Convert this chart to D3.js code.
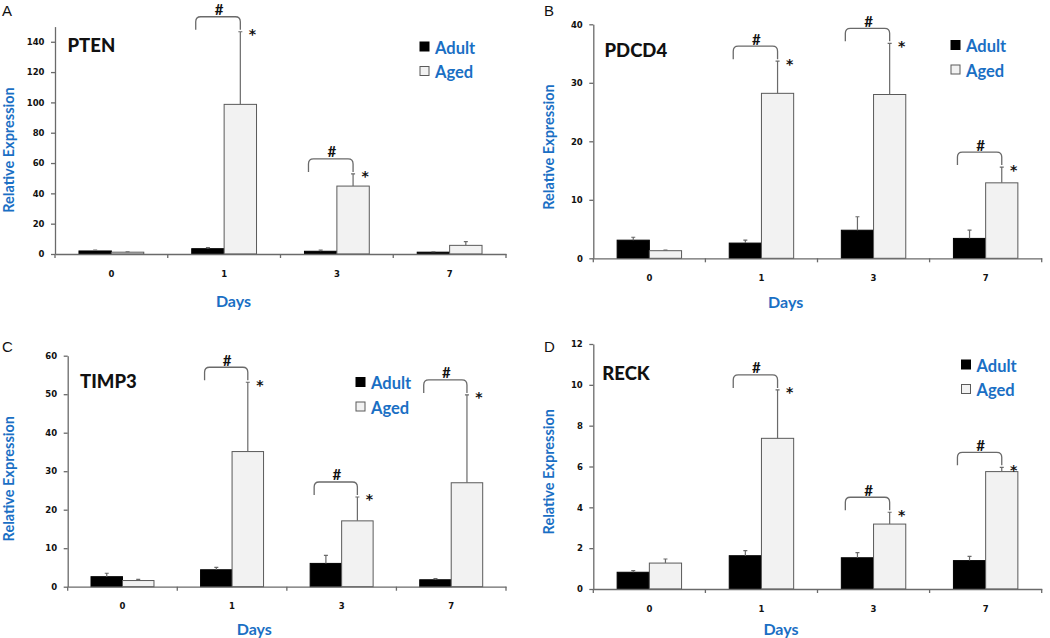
<!DOCTYPE html>
<html><head><meta charset="utf-8">
<script src="https://cdn.jsdelivr.net/npm/d3@7"></script>
<style>body{margin:0;background:#fff} svg{display:block}</style>
</head><body><svg id="c" width="1050" height="638"></svg>
<script>
// ---------- data ----------
const days = ["0", "1", "3", "7"];
const seriesNames = ["Adult", "Aged"];

const ptenAdult = [2.0, 3.5, 1.8, 1.2];
const ptenAdultErr = [0.5, 0.7, 0.7, 0.3];
const ptenAged = [1.2, 98.7, 44.8, 5.7];
const ptenAgedErr = [0.3, 47.9, 8.0, 2.4];
const ptenSig = ["1", "3"];
const ptenTicks = [0, 20, 40, 60, 80, 100, 120, 140];

const pdcd4Adult = [3.1, 2.6, 4.8, 3.4];
const pdcd4AdultErr = [0.5, 0.5, 2.3, 1.4];
const pdcd4Aged = [1.3, 28.2, 28.0, 12.9];
const pdcd4AgedErr = [0.1, 5.5, 8.75, 2.7];
const pdcd4Sig = ["1", "3", "7"];
const pdcd4Ticks = [0, 10, 20, 30, 40];

const timp3Adult = [2.6, 4.4, 6.05, 1.8];
const timp3AdultErr = [0.9, 0.6, 2.1, 0.3];
const timp3Aged = [1.6, 35.1, 17.1, 27.0];
const timp3AgedErr = [0.3, 18.0, 6.2, 22.8];
const timp3Sig = ["1", "3", "7"];
const timp3Ticks = [0, 10, 20, 30, 40, 50, 60];

const reckAdult = [0.82, 1.63, 1.53, 1.39];
const reckAdultErr = [0.08, 0.25, 0.25, 0.21];
const reckAged = [1.27, 7.38, 3.18, 5.75];
const reckAgedErr = [0.2, 2.37, 0.58, 0.21];
const reckSig = ["1", "3", "7"];
const reckTicks = [0, 2, 4, 6, 8, 10, 12];

// ---------- drawing ----------
const BLUE = "#1a6fc4", AX = "#6a6a6a", TXT = "Lato, 'Open Sans', sans-serif";
const svg = d3.select("#c");

function panel(p) {
  const g = svg.append("g");
  const x = d3.scaleBand().domain(days).range([p.x0, p.x1]).paddingInner(0).paddingOuter(0);
  const xs = d3.scaleBand().domain(seriesNames).range([0, x.bandwidth()]).paddingInner(0).paddingOuter(0.74);
  const y = d3.scaleLinear().domain([0, p.max]).range([p.y0, p.yTop]);

  const rows = days.map((d, i) => ({
    day: d,
    vals: [
      { s: "Adult", v: p.adult[i], e: p.adultErr[i] },
      { s: "Aged", v: p.aged[i], e: p.agedErr[i] }
    ]
  }));

  // bars
  const grp = g.selectAll("g.day").data(rows).join("g").attr("class", "day")
    .attr("transform", d => `translate(${x(d.day)},0)`);
  grp.selectAll("rect").data(d => d.vals).join("rect")
    .attr("x", d => xs(d.s)).attr("width", xs.bandwidth())
    .attr("y", d => y(d.v)).attr("height", d => y(0) - y(d.v))
    .attr("fill", d => d.s === "Adult" ? "#000" : "#f2f2f2")
    .attr("stroke", d => d.s === "Adult" ? "#000" : "#5a5a5a")
    .attr("stroke-width", 1);

  // error bars
  grp.selectAll("path.err").data(d => d.vals).join("path").attr("class", "err")
    .attr("d", d => {
      const cx = xs(d.s) + xs.bandwidth() / 2;
      const t = y(d.v + d.e), b = y(d.v);
      return `M${cx},${b}V${t}M${cx - 2},${t}H${cx + 2}`;
    })
    .attr("stroke", "#6a6a6a").attr("stroke-width", 1.2).attr("fill", "none");

  // axes
  const ya = g.append("g").attr("transform", `translate(${p.x0},0)`)
    .call(d3.axisLeft(y).tickValues(p.ticks).tickSize(4).tickSizeOuter(0).tickPadding(6.5));
  const xa = g.append("g").attr("transform", `translate(0,${p.y0})`)
    .call(d3.axisBottom(x).tickSize(0).tickSizeOuter(0).tickPadding(16.5));
  [ya, xa].forEach(a => {
    a.selectAll("path,line").attr("stroke", AX).attr("stroke-width", 1.3);
    a.selectAll("text").attr("font-family", "'DejaVu Sans', Verdana, sans-serif")
      .attr("font-weight", "bold").attr("font-size", 8.5).attr("fill", "#111");
  });
  // category boundary ticks
  const bounds = days.map(d => x(d)).concat([p.x1]);
  g.selectAll("line.bt").data(bounds).join("line").attr("class", "bt")
    .attr("x1", d => d).attr("x2", d => d).attr("y1", p.y0).attr("y2", p.y0 + 4)
    .attr("stroke", AX).attr("stroke-width", 1.3);

  // significance brackets
  const sigRows = rows.filter(r => p.sig.includes(r.day));
  sigRows.forEach(r => {
    const aged = r.vals[1];
    const xl = x(r.day) + xs("Adult") + 4;
    const xr = x(r.day) + xs("Aged") + xs.bandwidth() / 2;
    const et = y(aged.v + aged.e);
    const yEnd = et - 2, yT = yEnd - 13, rr = 5;
    g.append("path")
      .attr("d", `M${xl},${yEnd}V${yT + rr}Q${xl},${yT} ${xl + rr},${yT}H${xr - rr}Q${xr},${yT} ${xr},${yT + rr}V${yEnd}`)
      .attr("fill", "none").attr("stroke", "#6a6a6a").attr("stroke-width", 1.3);
    g.append("text").attr("x", (xl + xr) / 2 + 1).attr("y", yT - 1.5)
      .attr("text-anchor", "middle").attr("font-family", TXT).attr("font-weight", "bold")
      .attr("font-size", 15).attr("fill", "#111").text("#");
    g.append("text").attr("x", xr + 12).attr("y", et + 7.5)
      .attr("text-anchor", "middle").attr("font-family", "'DejaVu Sans', sans-serif").attr("font-weight", "bold")
      .attr("font-size", 14).attr("fill", "#111").text("*");
  });

  // gene name
  g.append("text").attr("x", p.nameX).attr("y", p.nameY)
    .attr("font-family", TXT).attr("font-weight", 900).attr("font-size", 18.5)
    .attr("fill", "#111").text(p.name);

  // legend
  seriesNames.forEach((s, i) => {
    const ly = p.legY + i * 24.5;
    g.append("rect").attr("x", p.legX).attr("y", ly).attr("width", 9).attr("height", 9)
      .attr("fill", s === "Adult" ? "#000" : "#f2f2f2")
      .attr("stroke", s === "Adult" ? "#000" : "#5a5a5a").attr("stroke-width", 1);
    g.append("text").attr("x", p.legX + 15).attr("y", ly + 11.5)
      .attr("font-family", TXT).attr("font-weight", "bold").attr("font-size", 16.5)
      .attr("fill", BLUE).text(s);
  });

  // axis titles
  g.append("text").attr("transform", `translate(${p.ytX},${p.ytY}) rotate(-90)`)
    .attr("text-anchor", "middle").attr("font-family", TXT).attr("font-weight", "bold")
    .attr("font-size", 14.5).attr("fill", BLUE).text("Relative Expression");
  g.append("text").attr("x", p.xtX).attr("y", p.xtY).attr("text-anchor", "middle")
    .attr("font-family", TXT).attr("font-weight", "bold").attr("font-size", 16)
    .attr("fill", BLUE).text("Days");

  // panel letter
  g.append("text").attr("x", p.lx).attr("y", p.ly)
    .attr("font-family", "'Liberation Sans', Arial, sans-serif").attr("font-size", 15)
    .attr("fill", "#111").text(p.letter);
}

panel({ letter: "A", lx: 2, ly: 16, name: "PTEN", nameX: 67.5, nameY: 51.5,
  x0: 55, x1: 506, y0: 254, yTop: 26.6, max: 150, ticks: ptenTicks,
  adult: ptenAdult, adultErr: ptenAdultErr, aged: ptenAged, agedErr: ptenAgedErr, sig: ptenSig,
  legX: 420, legY: 42, ytX: 14, ytY: 150, xtX: 233.5, xtY: 307 });

panel({ letter: "B", lx: 544, ly: 16, name: "PDCD4", nameX: 604.5, nameY: 57.3,
  x0: 593.3, x1: 1041.7, y0: 258.3, yTop: 24.3, max: 40, ticks: pdcd4Ticks,
  adult: pdcd4Adult, adultErr: pdcd4AdultErr, aged: pdcd4Aged, agedErr: pdcd4AgedErr, sig: pdcd4Sig,
  legX: 951, legY: 40.5, ytX: 554, ytY: 147, xtX: 785.7, xtY: 308.3 });

panel({ letter: "C", lx: 2, ly: 352, name: "TIMP3", nameX: 80, nameY: 388.3,
  x0: 67.7, x1: 506, y0: 586.7, yTop: 355.7, max: 60, ticks: timp3Ticks,
  adult: timp3Adult, adultErr: timp3AdultErr, aged: timp3Aged, agedErr: timp3AgedErr, sig: timp3Sig,
  legX: 356, legY: 377.5, ytX: 14, ytY: 478.7, xtX: 254.3, xtY: 635 });

panel({ letter: "D", lx: 544, ly: 351.5, name: "RECK", nameX: 602.3, nameY: 380,
  x0: 593.3, x1: 1041.7, y0: 589, yTop: 344, max: 12, ticks: reckTicks,
  adult: reckAdult, adultErr: reckAdultErr, aged: reckAged, agedErr: reckAgedErr, sig: reckSig,
  legX: 961.5, legY: 360, ytX: 554, ytY: 471.7, xtX: 781, xtY: 635 });
</script>
</body></html>
